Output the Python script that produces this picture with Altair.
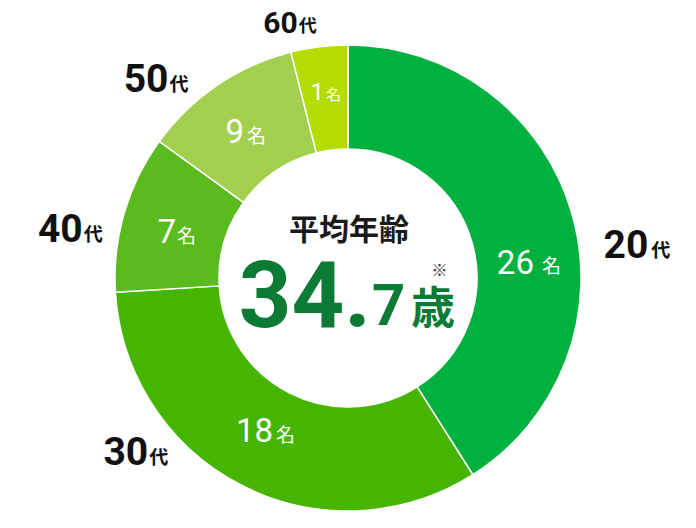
import altair as alt
import pandas as pd

# ---- data ----
ages = ["20", "30", "40", "50", "60"]
age_unit = "代"
counts = [26, 18, 7, 9, 1]
count_unit = "名"
# slice sizes as drawn (degrees of the ring)
slice_share = [147.6, 118.9, 39.4, 39.9, 14.2]
colors = ["#00b140", "#46b500", "#5abb1e", "#a3cf4f", "#b5dc00"]
avg_title = "平均年齢"
avg_int = "34."
avg_dec = "7"
avg_unit = "歳"
note_mark = "※"

df = pd.DataFrame({
    "idx": list(range(len(ages))),
    "age": ages,
    "count": [str(c) for c in counts],
    "share": slice_share,
    "color": colors,
})

TOP = 10
CX, CY = 340, 270 - TOP
R_OUT, R_IN = 233, 129
LATIN = "Roboto"
CJK = "Noto Sans CJK JP"
DARK = "#0b7a35"
BLACK = "#111111"

theta_scale = alt.Scale(domain=[0, sum(slice_share)])

arcs = alt.Chart(df).mark_arc(
    outerRadius=R_OUT, innerRadius=R_IN, stroke="white", strokeWidth=1.5
).encode(
    x=alt.value(CX), y=alt.value(CY),
    theta=alt.Theta("share:Q", stack=True, scale=theta_scale),
    order=alt.Order("idx:Q"),
    color=alt.Color("color:N", scale=None),
)

lab_base = alt.Chart(df).transform_window(
    cum="sum(share)", sort=[alt.SortField("idx")], frame=[None, 0]
).transform_calculate(mid="datum.cum - datum.share / 2")


def label(i, text, r, dx, dy, size, weight, color, font, align):
    enc = dict(
        x=alt.value(CX), y=alt.value(CY),
        theta=alt.Theta("mid:Q", stack=False, scale=theta_scale),
    )
    if text == "count":
        enc["text"] = alt.Text("count:N")
    elif text == "age":
        enc["text"] = alt.Text("age:N")
    else:
        enc["text"] = alt.value(text)
    return lab_base.transform_filter(alt.datum.idx == i).mark_text(
        radius=r, dx=dx, dy=dy, fontSize=size, fontWeight=weight,
        color=color, font=font, align=align, baseline="alphabetic",
    ).encode(**enc)


layers = [arcs]

# inner labels (count + 名): (num dx, num dy, unit dx, unit dy, num size, unit size)
inner = [
    (15, 46, 23, 45, 33, 19),
    (6, 5.5, 9, 5.5, 33, 19),
    (-1, 15, 0, 15, 33, 19),
    (-4, 12, -1, 12, 33, 19),
    (-2, -1.5, 0, -1.5, 24, 15),
]
for i, (ndx, ndy, udx, udy, ns, us) in enumerate(inner):
    layers.append(label(i, "count", 178, ndx, ndy, ns, "normal", "white", LATIN, "right"))
    layers.append(label(i, count_unit, 178, udx, udy, us, "normal", "white", CJK, "left"))

# outer labels (age + 代)
outer = [
    (41, 55, 44, 54, 39, 19),
    (-77, -53.5, -76, -54, 39, 19),
    (-6, 39, -5, 38, 39, 19),
    (-28, 37, -27, 36, 39, 19),
    (-17, 23, -16, 22, 30, 18),
]
for i, (ndx, ndy, udx, udy, ns, us) in enumerate(outer):
    layers.append(label(i, "age", 270, ndx, ndy, ns, "bold", BLACK, LATIN, "right"))
    layers.append(label(i, age_unit, 270, udx, udy, us, "bold", BLACK, CJK, "left"))

one = alt.Data(values=[{}])


def static(text, x, y, size, weight, color, font, align, baseline="alphabetic"):
    return alt.Chart(one).mark_text(
        fontSize=size, fontWeight=weight, color=color, font=font,
        align=align, baseline=baseline,
    ).encode(x=alt.value(x), y=alt.value(y - TOP), text=alt.value(text))


layers += [
    static(avg_title, 341, 232, 30, "bold", "#1a1a1a", CJK, "center"),
    static(avg_int, 363, 319, 92, "bold", DARK, LATIN, "right"),
    static(avg_dec, 364, 317, 58, "bold", DARK, LATIN, "left"),
    static(avg_unit, 403, 316, 44, "bold", DARK, CJK, "left"),
    static(note_mark, 431.5, 263, 16, "normal", "#333333", CJK, "center", "middle"),
]

chart = alt.layer(*layers).properties(
    width=680, height=500,
    padding={"top": TOP, "left": 0, "right": 0, "bottom": 0},
    autosize=alt.AutoSizeParams(type="none"),
).configure_view(stroke=None)

chart.save("out.html", embed_options={"renderer": "svg", "actions": False})
